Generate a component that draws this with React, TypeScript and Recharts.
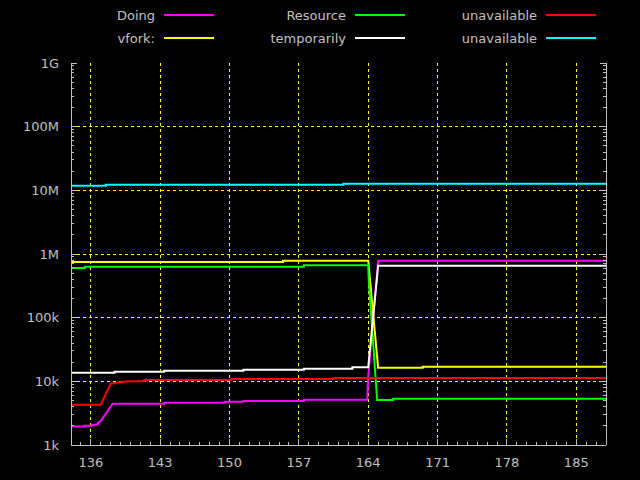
import { LineChart, Line, XAxis, YAxis, CartesianGrid } from 'recharts'

// legend / series order follows the gnuplot key (column by column)
const names = ['Doing', 'vfork:', 'Resource', 'temporarily', 'unavailable', 'unavailable']
const colors = ['#ff00ff', '#ffff00', '#00ff00', '#ffffff', '#ff0000', '#00ffff']

const doingX = [134, 135.4, 135.4, 136.1, 136.1, 136.7, 136.7, 137, 138.2, 143.4, 143.4, 149.5, 149.5, 151.4, 151.4, 157.5, 157.5, 163.9, 164, 165, 188]
const doingY = [1950, 1950, 2000, 2000, 2080, 2080, 2210, 2380, 4450, 4450, 4610, 4610, 4790, 4790, 4900, 4900, 5140, 5140, 11800, 785000, 785000]

const vforkX = [134, 155.4, 155.4, 164, 165, 169.5, 169.5, 188]
const vforkY = [748000, 748000, 785000, 785000, 16400, 16400, 17000, 17000]

const resourceX = [134, 135.4, 135.4, 157.5, 157.5, 164, 164.05, 164.9, 166.5, 166.5, 188]
const resourceY = [603000, 603000, 630000, 630000, 664000, 664000, 400000, 5100, 5100, 5330, 5330]

const tempX = [134, 138.4, 138.4, 143.4, 143.4, 151.4, 151.4, 157.5, 157.5, 162.4, 162.4, 164, 165, 188]
const tempY = [13700, 13700, 14200, 14200, 14700, 14700, 15200, 15200, 15800, 15800, 16600, 16600, 655000, 655000]

const unavailX = [134, 137, 138, 139.5, 141.4, 141.4, 150.2, 150.2, 160.5, 160.5, 188]
const unavailY = [4300, 4300, 9200, 9900, 10100, 10500, 10500, 10900, 10900, 11300, 11300]

const unavail2X = [134, 137.5, 137.5, 161.5, 161.5, 188]
const unavail2Y = [11800000, 11800000, 12200000, 12200000, 12700000, 12700000]

const xMajor = [136, 143, 150, 157, 164, 171, 178, 185]
const yMajor = [1e3, 1e4, 1e5, 1e6, 1e7, 1e8, 1e9]
const yLabels = ['1k', '10k', '100k', '1M', '10M', '100M', '1G']

const xTicks: number[] = []
for (let v = 134; v <= 188; v++) xTicks.push(v)
const yTicks: number[] = []
for (let d = 1e3; d < 1e9; d *= 10) for (let m = 1; m < 10; m++) yTicks.push(d * m)
yTicks.push(1e9)

const toPts = (xs: number[], ys: number[]) => xs.map((x, i) => ({ x, y: ys[i] }))
const series = [
  toPts(doingX, doingY),
  toPts(vforkX, vforkY),
  toPts(resourceX, resourceY),
  toPts(tempX, tempY),
  toPts(unavailX, unavailY),
  toPts(unavail2X, unavail2Y),
]

const GRAY = '#c0c0c0'
const FONT = 'DejaVu Sans, sans-serif'

const isMajorX = (v: number) => xMajor.includes(v)
const isMajorY = (v: number) => yMajor.includes(v)

function BottomTick(props: any) {
  const { x, y, payload } = props
  const major = isMajorX(payload.value)
  return (
    <g>
      <line x1={x} x2={x} y1={y} y2={y - (major ? 6 : 3)} stroke={GRAY} shapeRendering="crispEdges" />
      {major && (
        <text x={x} y={y + 17} dy="0.35em" textAnchor="middle" fill={GRAY} fontSize={13} fontFamily={FONT}>
          {payload.value}
        </text>
      )}
    </g>
  )
}

function TopTick(props: any) {
  const { x, y, payload } = props
  const major = isMajorX(payload.value)
  return <line x1={x} x2={x} y1={y} y2={y + (major ? 6 : 3)} stroke={GRAY} shapeRendering="crispEdges" />
}

function LeftTick(props: any) {
  const { x, y, payload } = props
  const i = yMajor.indexOf(payload.value)
  return (
    <g>
      <line x1={x} x2={x + (i >= 0 ? 6 : 3)} y1={y} y2={y} stroke={GRAY} shapeRendering="crispEdges" />
      {i >= 0 && (
        <text x={x - 12} y={y} dy="0.35em" textAnchor="end" fill={GRAY} fontSize={13} fontFamily={FONT}>
          {yLabels[i]}
        </text>
      )}
    </g>
  )
}

function RightTick(props: any) {
  const { x, y, payload } = props
  const major = isMajorY(payload.value)
  return <line x1={x} x2={x - (major ? 6 : 3)} y1={y} y2={y} stroke={GRAY} shapeRendering="crispEdges" />
}

function Key() {
  return (
    <svg width={640} height={50} style={{ position: 'absolute', left: 0, top: 0 }}>
      {names.map((n, i) => {
        const col = Math.floor(i / 2)
        const row = i % 2
        const x0 = 164 + col * 191
        const y0 = 15 + row * 23
        return (
          <g key={i}>
            <text x={x0 - 9} y={y0} dy="0.35em" textAnchor="end" fill={GRAY} fontSize={13} fontFamily={FONT}>
              {n}
            </text>
            <line x1={x0} x2={x0 + 50} y1={y0} y2={y0} stroke={colors[i]} strokeWidth={2} />
          </g>
        )
      })}
    </svg>
  )
}

export default function App() {
  return (
    <div style={{ position: 'absolute', left: 0, top: 0, width: 640, height: 480, background: '#000' }}>
      <LineChart width={640} height={480} margin={{ top: 63, right: 0, bottom: 0, left: 0 }}>
        <CartesianGrid
          stroke="#ffff00"
          strokeDasharray="3 3"
          shapeRendering="crispEdges"
          horizontalValues={yMajor.slice(1, -1)}
          verticalValues={xMajor}
        />
        <XAxis
          dataKey="x"
          type="number"
          domain={[134, 188]}
          allowDataOverflow
          ticks={xTicks}
          interval={0}
          height={35}
          tickSize={0}
          tickMargin={0}
          tickLine={false}
          tick={BottomTick}
          axisLine={{ stroke: GRAY, shapeRendering: 'crispEdges' }}
        />
        <XAxis
          xAxisId="top"
          orientation="top"
          dataKey="x"
          type="number"
          domain={[134, 188]}
          allowDataOverflow
          ticks={xTicks}
          interval={0}
          height={0}
          tickSize={0}
          tickMargin={0}
          tickLine={false}
          tick={TopTick}
          axisLine={{ stroke: GRAY, shapeRendering: 'crispEdges' }}
        />
        <YAxis
          type="number"
          scale="log"
          domain={[1e3, 1e9]}
          allowDataOverflow
          ticks={yTicks}
          interval={0}
          width={71}
          tickSize={0}
          tickMargin={0}
          tickLine={false}
          tick={LeftTick}
          axisLine={{ stroke: GRAY, shapeRendering: 'crispEdges' }}
        />
        <YAxis
          yAxisId="right"
          orientation="right"
          type="number"
          scale="log"
          domain={[1e3, 1e9]}
          allowDataOverflow
          ticks={yTicks}
          interval={0}
          width={34}
          tickSize={0}
          tickMargin={0}
          tickLine={false}
          tick={RightTick}
          axisLine={{ stroke: GRAY, shapeRendering: 'crispEdges' }}
        />
        {series.map((pts, i) => (
          <Line
            key={i}
            data={pts}
            dataKey="y"
            name={names[i]}
            type="linear"
            stroke={colors[i]}
            strokeWidth={2}
            dot={false}
            isAnimationActive={false}
          />
        ))}
      </LineChart>
      <Key />
    </div>
  )
}
